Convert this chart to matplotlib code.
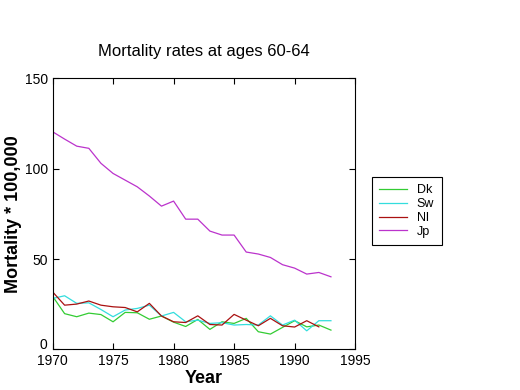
import matplotlib
matplotlib.use("Agg")
import matplotlib.pyplot as plt
import matplotlib.transforms as mtransforms

plt.rcParams["font.family"] = ["Liberation Sans", "DejaVu Sans"]

years = list(range(1970, 1994))
dk = [29.5, 19.8, 18.1, 20.1, 19.3, 15.3, 20.5, 20.3, 16.7, 18.5, 15.1, 12.7,
      16.6, 11.1, 15.3, 14.4, 17.2, 9.8, 8.5, 12.2, 15.9, 12.5, 13.5, 10.7]
sw = [28.2, 29.7, 25.5, 25.8, 22.1, 18.1, 21.8, 22.7, 24.5, 18.5, 20.5, 15.3,
      16.2, 14.4, 14.8, 13.5, 13.8, 13.5, 18.6, 13.5, 16.2, 10.3, 15.9, 15.9]
nl = [31.9, 24.5, 25.1, 26.8, 24.5, 23.6, 23.2, 20.8, 25.5, 18.5, 15.3, 14.9,
      18.6, 13.8, 13.5, 19.4, 16.2, 13.1, 17.2, 13.1, 12.4, 15.9, 12.5]
jp = [120.5, 116.4, 112.5, 111.3, 103.0, 97.4, 93.7, 90.0, 84.9, 79.3, 82.1, 72.1,
      72.1, 65.5, 63.3, 63.3, 53.9, 52.8, 50.9, 46.9, 45.0, 41.7, 42.6, 40.2]

series = [("Dk", dk, "#33cc33"), ("Sw", sw, "#33dddd"),
          ("Nl", nl, "#aa1111"), ("Jp", jp, "#bb33cc")]

fig = plt.figure(figsize=(5.2, 3.9), dpi=100)
ax = fig.add_axes([0.101, 0.104, 0.582, 0.695])
for name, vals, col in series:
    ax.plot(years[:len(vals)], vals, color=col, lw=0.9, label=name)

ax.set_xlim(1970, 1995)
ax.set_ylim(0, 150)
ax.set_xticks([1970, 1975, 1980, 1985, 1990, 1995])
ax.set_yticks([0, 50, 100, 150])
ax.tick_params(direction="in", top=True, right=True, labelsize=10, length=4)
for s in ax.spines.values():
    s.set_linewidth(0.8)
ax.set_xlabel("Year", fontsize=13, fontweight="bold", labelpad=1)
ax.set_ylabel("Mortality * 100,000", fontsize=13, fontweight="bold", labelpad=2)
ax.set_title("Mortality rates at ages 60-64", fontsize=12, pad=16)

# lift the "0" label a touch so it sits above "1970"
fig.canvas.draw()
zero = ax.get_yticklabels()[0]
zero.set_transform(zero.get_transform() +
                   mtransforms.ScaledTranslation(0, 4 / 72, fig.dpi_scale_trans))

leg = fig.legend(loc="upper left", bbox_to_anchor=(0.703, 0.563), fontsize=9,
                 fancybox=False, edgecolor="black", handlelength=2.2,
                 labelspacing=0.15, borderpad=0.6, framealpha=1)
leg.get_frame().set_linewidth(0.8)

fig.savefig("out.png", dpi=100)
